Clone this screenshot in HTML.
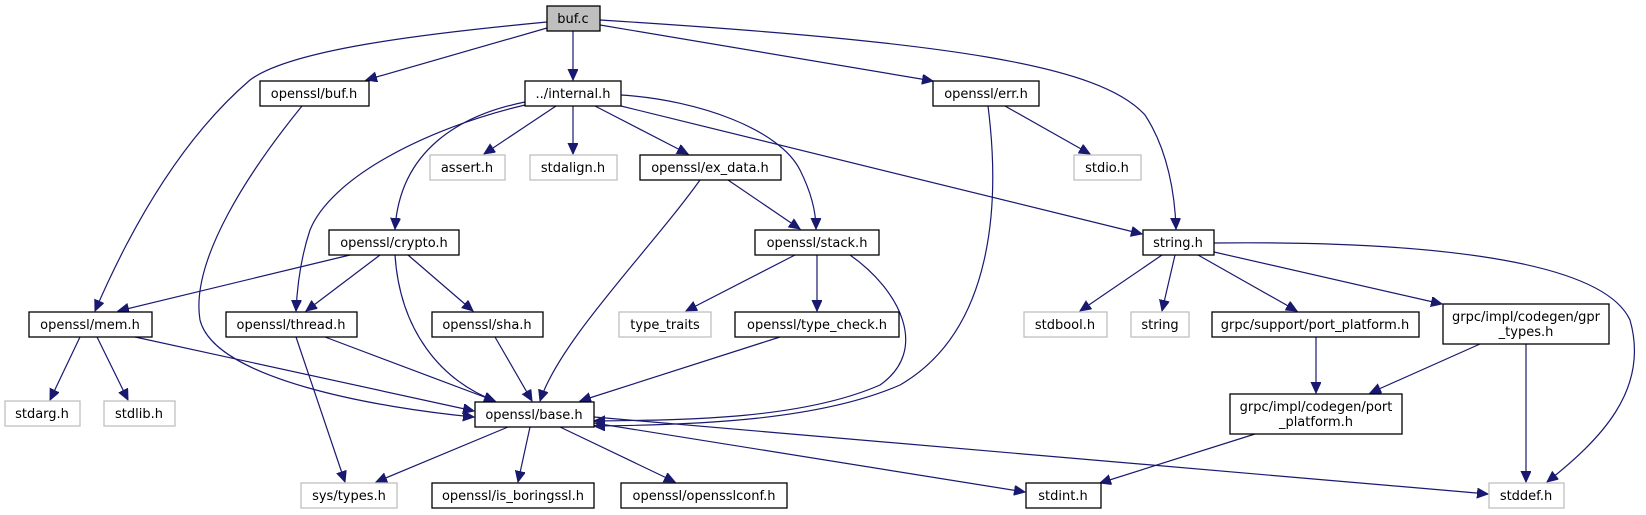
<!DOCTYPE html>
<html><head><meta charset="utf-8"><style>
html,body{margin:0;padding:0;background:#fff;}
svg{display:block;}
text{font-family:"DejaVu Sans","Liberation Sans",sans-serif;font-size:13px;fill:#000;text-anchor:middle;}
.b{fill:#fff;stroke:#000;stroke-width:1.3;}
.g{fill:#fff;stroke:#bfbfbf;stroke-width:1.3;}
.e{fill:none;stroke:#191970;stroke-width:1.2;marker-end:url(#a);}
</style></head><body>
<svg width="1646" height="515" viewBox="0 0 1646 515" xmlns="http://www.w3.org/2000/svg">
<defs><marker id="a" markerUnits="userSpaceOnUse" markerWidth="12" markerHeight="12" refX="11" refY="5" orient="auto"><path d="M0,0 L11,5 L0,10 z" fill="#191970" stroke="#191970"/></marker></defs>
<!-- edges -->
<path class="e" d="M547,22 C420,34 290,50 250,80 C180,140 130,230 95,311"/>
<path class="e" d="M547,28 L366,80"/>
<path class="e" d="M573,31 L573,80"/>
<path class="e" d="M600,25 L933,81"/>
<path class="e" d="M600,20 C950,42 1100,65 1145,115 C1168,150 1175,195 1176,229"/>
<path class="e" d="M302,106 C250,170 190,260 200,320 C215,380 380,408 474,417"/>
<path class="e" d="M556,106 L484,154"/>
<path class="e" d="M573,106 L573,154"/>
<path class="e" d="M595,106 L688,154"/>
<path class="e" d="M621,95 C700,100 780,130 800,170 C810,190 816,210 816,229"/>
<path class="e" d="M621,106 L1142,234"/>
<path class="e" d="M525,102 C460,115 400,150 395,229"/>
<path class="e" d="M525,105 C420,130 330,180 310,230 C300,260 297,290 296,311"/>
<path class="e" d="M988,106 C1000,200 995,330 900,385 C820,420 700,425 594,426"/>
<path class="e" d="M1005,106 L1090,154"/>
<path class="e" d="M728,180 L800,229"/>
<path class="e" d="M700,180 C650,250 560,340 540,401"/>
<path class="e" d="M350,255 L118,311"/>
<path class="e" d="M380,255 L306,311"/>
<path class="e" d="M408,255 L473,311"/>
<path class="e" d="M395,255 C400,330 440,380 495,401"/>
<path class="e" d="M795,255 L686,311"/>
<path class="e" d="M817,255 L817,311"/>
<path class="e" d="M850,255 C900,290 930,350 880,385 C800,420 680,420 594,421"/>
<path class="e" d="M780,337 L580,401"/>
<path class="e" d="M495,337 L532,401"/>
<path class="e" d="M80,337 L50,400"/>
<path class="e" d="M97,337 L128,400"/>
<path class="e" d="M135,337 L474,411"/>
<path class="e" d="M325,337 L495,401"/>
<path class="e" d="M296,337 L345,482"/>
<path class="e" d="M508,427 L376,482"/>
<path class="e" d="M530,427 L518,482"/>
<path class="e" d="M560,427 L675,482"/>
<path class="e" d="M594,423 L1025,492"/>
<path class="e" d="M594,417 L1488,494"/>
<path class="e" d="M1162,255 L1080,311"/>
<path class="e" d="M1175,255 L1162,311"/>
<path class="e" d="M1198,255 L1297,311"/>
<path class="e" d="M1214,252 L1442,304"/>
<path class="e" d="M1214,243 C1400,241 1600,255 1630,320 C1650,390 1600,440 1547,482"/>
<path class="e" d="M1316,337 L1316,393"/>
<path class="e" d="M1480,344 L1370,393"/>
<path class="e" d="M1526,344 L1526,482"/>
<path class="e" d="M1255,434 L1100,483"/>
<!-- nodes -->
<rect x="547" y="6" width="53" height="25" fill="#bfbfbf" stroke="#000" stroke-width="1.3"/><text x="573" y="23">buf.c</text>
<rect class="b" x="260" y="81" width="109" height="25"/><text x="314" y="98">openssl/buf.h</text>
<rect class="b" x="525" y="81" width="96" height="25"/><text x="573" y="98">../internal.h</text>
<rect class="b" x="933" y="81" width="106" height="25"/><text x="986" y="98">openssl/err.h</text>
<rect class="g" x="430" y="155" width="75" height="25"/><text x="467" y="172">assert.h</text>
<rect class="g" x="530" y="155" width="87" height="25"/><text x="573" y="172">stdalign.h</text>
<rect class="b" x="640" y="155" width="141" height="25"/><text x="710" y="172">openssl/ex_data.h</text>
<rect class="g" x="1074" y="155" width="67" height="25"/><text x="1107" y="172">stdio.h</text>
<rect class="b" x="329" y="230" width="130" height="25"/><text x="394" y="247">openssl/crypto.h</text>
<rect class="b" x="755" y="230" width="124" height="25"/><text x="817" y="247">openssl/stack.h</text>
<rect class="b" x="1143" y="230" width="71" height="25"/><text x="1178" y="247">string.h</text>
<rect class="b" x="29" y="312" width="123" height="25"/><text x="90" y="329">openssl/mem.h</text>
<rect class="b" x="226" y="312" width="131" height="25"/><text x="291" y="329">openssl/thread.h</text>
<rect class="b" x="432" y="312" width="111" height="25"/><text x="487" y="329">openssl/sha.h</text>
<rect class="g" x="619" y="312" width="92" height="25"/><text x="665" y="329">type_traits</text>
<rect class="b" x="735" y="312" width="164" height="25"/><text x="817" y="329">openssl/type_check.h</text>
<rect class="g" x="1024" y="312" width="83" height="25"/><text x="1065" y="329">stdbool.h</text>
<rect class="g" x="1131" y="312" width="58" height="25"/><text x="1160" y="329">string</text>
<rect class="b" x="1212" y="312" width="207" height="25"/><text x="1315" y="329">grpc/support/port_platform.h</text>
<rect class="b" x="1443" y="304" width="166" height="40"/><text x="1526" y="321">grpc/impl/codegen/gpr</text><text x="1526" y="336">_types.h</text>
<rect class="g" x="5" y="401" width="75" height="25"/><text x="42" y="418">stdarg.h</text>
<rect class="g" x="104" y="401" width="71" height="25"/><text x="139" y="418">stdlib.h</text>
<rect class="b" x="475" y="402" width="119" height="25"/><text x="534" y="419">openssl/base.h</text>
<rect class="b" x="1230" y="394" width="172" height="40"/><text x="1316" y="411">grpc/impl/codegen/port</text><text x="1316" y="426">_platform.h</text>
<rect class="g" x="301" y="483" width="96" height="25"/><text x="349" y="500">sys/types.h</text>
<rect class="b" x="432" y="483" width="162" height="25"/><text x="513" y="500">openssl/is_boringssl.h</text>
<rect class="b" x="621" y="483" width="166" height="25"/><text x="704" y="500">openssl/opensslconf.h</text>
<rect class="b" x="1026" y="483" width="75" height="25"/><text x="1063" y="500">stdint.h</text>
<rect class="g" x="1489" y="483" width="75" height="25"/><text x="1526" y="500">stddef.h</text>
</svg>
</body></html>
